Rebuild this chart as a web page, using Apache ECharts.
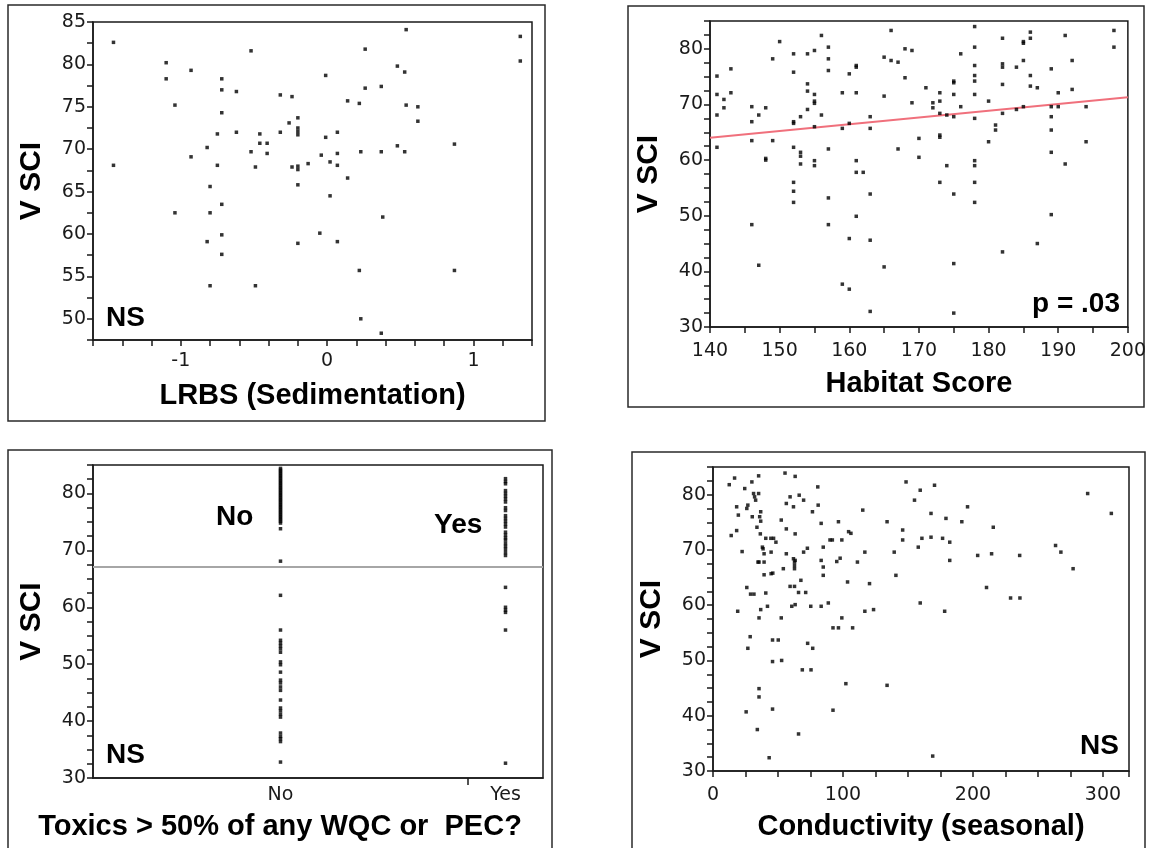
<!DOCTYPE html>
<html>
<head>
<meta charset="utf-8">
<style>
  html, body { margin: 0; padding: 0; background: #fff; }
  #chart { width: 1149px; height: 848px; }
</style>
<script src="https://cdn.jsdelivr.net/npm/echarts@6/dist/echarts.min.js"></script>
</head>
<body>
<div id="chart"></div>
<script>
// ---- V SCI against four stressors -------------------------------------

// LRBS (sedimentation) vs V SCI: [LRBS, VSCI]
const lrbsPoints = [
  [-1.46, 82.6], [-1.46, 68.1], [-1.10, 80.2], [-1.10, 78.3], [-1.04, 75.2], [-1.04, 62.5],
  [-0.93, 79.3], [-0.93, 69.1], [-0.82, 70.2], [-0.82, 59.1], [-0.80, 65.6], [-0.80, 62.5],
  [-0.80, 53.9], [-0.75, 71.8], [-0.75, 68.1], [-0.72, 78.3], [-0.72, 77.0], [-0.72, 74.3],
  [-0.72, 63.5], [-0.72, 59.9], [-0.72, 57.6], [-0.62, 76.8], [-0.62, 72.0], [-0.52, 81.6],
  [-0.52, 69.7], [-0.49, 67.9], [-0.49, 53.9], [-0.46, 71.8], [-0.46, 70.7], [-0.41, 70.7],
  [-0.41, 69.5], [-0.32, 76.4], [-0.32, 72.0], [-0.26, 73.1], [-0.24, 76.2], [-0.24, 67.9],
  [-0.20, 73.7], [-0.20, 72.5], [-0.20, 72.1], [-0.20, 71.7], [-0.20, 68.0], [-0.20, 67.6],
  [-0.20, 65.8], [-0.20, 58.9], [-0.13, 68.3], [-0.05, 60.1], [-0.04, 69.3], [-0.01, 78.7],
  [-0.01, 71.4], [0.02, 68.5], [0.02, 64.5], [0.07, 72.0], [0.07, 69.5], [0.07, 68.1],
  [0.07, 59.1], [0.14, 75.7], [0.14, 66.6], [0.22, 75.4], [0.22, 55.7], [0.23, 69.7],
  [0.23, 50.0], [0.26, 81.8], [0.26, 77.2], [0.37, 77.4], [0.37, 69.7], [0.37, 48.3],
  [0.38, 62.0], [0.48, 79.8], [0.48, 70.4], [0.53, 79.1], [0.53, 69.7], [0.54, 84.1],
  [0.54, 75.2], [0.62, 75.0], [0.62, 73.3], [0.87, 70.6], [0.87, 55.7], [1.32, 83.3],
  [1.32, 80.4]
];

// Habitat score vs V SCI: [score, VSCI]
const habitatPoints = [
  [141, 75.1], [141, 71.8], [141, 68.1], [141, 62.3], [142, 70.9], [142, 69.4], [143, 76.4], [143, 72.1],
  [146, 69.6], [146, 66.9], [146, 63.5], [146, 48.4], [147, 68.1], [147, 41.1], [148, 69.4], [148, 60.3],
  [148, 60.0], [149, 78.2], [149, 63.5], [150, 81.3],
  [152, 79.1], [152, 75.8], [152, 66.9], [152, 66.6], [152, 62.3], [152, 56.0], [152, 54.4], [152, 52.4],
  [153, 67.8], [153, 61.4], [153, 60.7], [153, 59.3],
  [154, 79.1], [154, 73.7], [154, 72.4], [154, 69.1],
  [155, 79.7], [155, 71.8], [155, 70.6], [155, 70.2], [155, 66.0], [155, 59.9], [155, 59.0],
  [156, 82.4], [156, 68.1],
  [157, 80.3], [157, 78.2], [157, 76.1], [157, 62.0], [157, 53.2], [157, 48.4],
  [159, 72.1], [159, 65.7], [159, 37.7],
  [160, 75.5], [160, 66.6], [160, 45.9], [160, 36.8],
  [161, 77.0], [161, 76.7], [161, 72.1], [161, 59.9], [161, 57.8], [161, 49.9],
  [162, 57.8],
  [163, 67.8], [163, 65.7], [163, 53.9], [163, 45.6], [163, 32.8],
  [165, 78.5], [165, 71.5], [165, 40.8],
  [166, 83.3], [166, 77.9], [167, 77.6], [167, 62.0], [168, 80.0], [168, 74.8],
  [169, 79.7], [169, 70.3], [170, 63.9], [170, 60.5], [171, 73.0], [172, 70.3], [172, 69.4],
  [173, 72.1], [173, 70.6], [173, 68.4], [173, 64.5], [173, 64.1], [173, 56.0],
  [174, 68.1], [174, 59.0],
  [175, 74.2], [175, 73.9], [175, 71.8], [175, 67.8], [175, 53.9], [175, 41.4], [175, 32.5],
  [176, 79.1], [176, 69.6],
  [178, 84.0], [178, 80.3], [178, 77.0], [178, 75.2], [178, 74.2], [178, 71.8], [178, 67.5],
  [178, 59.9], [178, 59.0], [178, 56.0], [178, 52.4],
  [180, 70.6], [180, 63.3], [181, 66.3], [181, 65.4],
  [182, 81.9], [182, 77.3], [182, 76.7], [182, 73.6], [182, 68.4], [182, 43.5],
  [184, 76.7], [184, 69.1],
  [185, 81.3], [185, 81.0], [185, 77.9], [185, 69.6],
  [186, 83.0], [186, 81.9], [186, 75.2], [186, 73.3],
  [187, 73.0], [187, 45.0],
  [189, 76.4], [189, 69.6], [189, 67.8], [189, 65.4], [189, 61.4], [189, 50.2],
  [190, 72.1], [190, 69.6], [191, 82.4], [191, 59.3], [192, 77.9], [192, 72.7],
  [194, 69.6], [194, 63.3], [198, 83.3], [198, 80.3]
];

// Fitted line through the habitat scatter
const habitatFitX = [140, 200];
const habitatFitY = [64.0, 71.3];

// Toxics > 50% of any WQC or PEC? — V SCI per group
const toxicsGroups = ['No', 'Yes'];
const toxicsGroupShare = [5, 1];   // relative width of each group on the axis
const toxicsNo = [
  84.4, 84.1, 83.8, 83.5, 83.2, 82.9, 82.6, 82.3, 82.0, 81.7, 81.4, 81.1, 80.8, 80.5, 80.2,
  79.9, 79.6, 79.3, 79.0, 78.7, 78.4, 78.1, 77.8, 77.5, 77.2, 76.9, 76.6, 76.3, 76.0, 75.7,
  75.4, 75.1, 74.8, 73.8, 68.1, 62.1, 56.0, 54.2, 53.7, 53.2, 52.7, 52.1, 50.4, 49.9, 48.6,
  47.2, 46.7, 46.0, 45.4, 43.7, 42.3, 41.8, 41.2, 40.7, 37.9, 37.3, 36.9, 36.4, 32.8
];
const toxicsYes = [
  82.6, 82.1, 81.7, 80.5, 80.0, 79.5, 79.0, 78.5, 77.5, 77.0, 76.1, 75.6, 75.1, 74.6, 74.1,
  73.2, 72.7, 72.2, 71.8, 71.2, 70.7, 70.2, 69.6, 69.1, 63.5, 60.0, 59.5, 59.1, 56.0, 32.6
];
const toxicsMean = 67.1;

// Seasonal conductivity vs V SCI: [conductivity, VSCI]
const conductivityPoints = [
  [12.5, 81.8], [16.6, 83.0], [14.0, 72.6], [18.2, 77.8], [18.2, 73.5], [19.5, 76.3], [19.0, 58.9],
  [22.4, 69.7], [24.4, 81.1], [26.0, 77.5], [26.8, 78.1], [26.0, 63.2], [26.8, 52.2], [25.5, 40.7],
  [28.6, 54.3], [28.9, 62.0], [31.5, 62.0], [29.9, 82.3], [30.2, 76.0], [31.2, 80.2], [32.0, 79.6],
  [32.8, 79.0], [33.8, 74.1], [34.1, 37.5], [35.1, 83.4], [35.1, 80.2], [34.6, 67.8], [35.4, 67.8],
  [35.4, 57.7], [35.4, 44.9], [35.4, 43.4], [35.9, 76.0], [36.7, 76.9], [36.7, 75.2], [36.4, 72.9],
  [36.7, 59.2], [38.0, 70.5], [38.5, 70.2], [39.3, 69.3], [39.3, 67.8], [39.3, 65.5], [40.6, 72.1],
  [40.6, 62.2], [41.9, 59.8], [43.2, 32.4], [44.5, 72.1], [46.6, 72.1], [44.7, 69.6], [44.7, 65.7],
  [46.0, 65.8], [45.8, 53.7], [50.2, 53.7], [45.8, 49.8], [45.8, 41.2], [48.4, 71.4], [52.5, 75.4],
  [52.5, 57.7], [52.8, 50.0], [54.1, 66.6], [55.4, 83.9], [56.4, 78.4], [56.4, 73.8], [56.4, 69.3],
  [59.3, 79.6], [59.3, 63.4], [60.6, 59.8], [61.9, 77.8], [61.9, 68.4], [62.7, 67.8], [62.7, 67.2],
  [62.7, 66.6], [63.2, 68.1], [62.7, 63.4], [63.2, 83.3], [63.2, 72.9], [63.2, 60.1], [66.3, 79.9],
  [65.8, 62.3], [65.8, 36.7], [67.6, 64.5], [68.7, 48.3], [69.7, 79.0], [69.7, 69.6], [71.3, 62.3],
  [72.6, 70.3], [72.8, 53.1], [75.2, 59.8], [75.4, 48.3], [76.5, 76.9], [76.7, 52.2], [80.6, 81.4],
  [80.9, 78.1], [83.2, 74.8], [83.2, 68.1], [83.2, 59.8], [84.8, 70.5], [84.8, 66.9], [84.8, 65.4],
  [88.7, 60.4], [90.0, 71.8], [91.8, 71.8], [92.3, 55.9], [96.5, 55.9], [92.3, 41.0], [95.2, 67.9],
  [96.5, 75.1], [97.8, 68.5], [99.1, 71.8], [99.1, 57.7], [102.2, 45.8], [103.5, 64.2], [104.3, 73.3],
  [106.1, 73.0], [107.4, 55.9], [111.1, 67.8], [115.2, 77.2], [116.8, 69.6], [116.8, 58.9],
  [120.4, 63.9], [123.5, 59.2], [133.9, 75.1], [133.9, 45.5], [139.4, 69.6], [140.7, 65.4],
  [145.9, 73.6], [145.9, 71.8], [148.5, 82.3], [155.0, 79.0], [157.9, 70.5], [159.4, 80.8],
  [159.4, 60.4], [160.7, 72.1], [167.7, 76.6], [167.7, 72.3], [169.0, 32.7], [170.4, 81.7],
  [176.6, 72.1], [178.2, 58.9], [179.2, 75.7], [182.1, 71.4], [182.1, 68.1], [191.4, 75.1],
  [195.8, 77.8], [203.6, 69.0], [210.4, 63.2], [214.3, 69.3], [215.6, 74.1], [228.9, 61.3],
  [236.1, 61.3], [235.9, 69.0], [263.5, 70.8], [267.6, 69.6], [277.0, 66.6], [288.2, 80.2],
  [306.4, 76.6]
];

// ---- helpers -------------------------------------------------------------
const FONT = '"Liberation Sans", Arial, Helvetica, sans-serif';
const TICK_FAMILY = '"DejaVu Sans", "Liberation Sans", sans-serif';
const INK = '#1a1a1a';
const TICK_FONT = 19;
const TITLE_SIZE = 29;
const NOTE_SIZE = 28;

function isMultiple(v, step) {
  const r = v / step;
  return Math.abs(r - Math.round(r)) < 1e-6;
}

function valueAxis(gridIndex, o) {
  return {
    gridIndex,
    type: 'value',
    min: o.min,
    max: o.max,
    interval: o.interval,
    name: o.name,
    nameLocation: 'middle',
    nameGap: o.nameGap,
    nameRotate: o.nameRotate,
    nameTextStyle: { fontFamily: FONT, fontWeight: 'bold', fontSize: o.nameSize || TITLE_SIZE, color: '#000' },
    axisLine: { show: true, onZero: false, lineStyle: { color: INK, width: 1.5 } },
    axisTick: { show: true, inside: false, length: 6, lineStyle: { color: INK, width: 1.5 } },
    axisLabel: {
      show: true,
      margin: o.labelMargin || 8,
      fontFamily: TICK_FAMILY,
      fontSize: TICK_FONT,
      color: INK,
      showMinLabel: true,
      showMaxLabel: true,
      formatter: v => (isMultiple(v, o.labelStep) ? String(Math.round(v)) : '')
    },
    splitLine: { show: false }
  };
}

// x centres of the toxics groups, from their relative widths
const toxicsTotal = toxicsGroupShare.reduce((a, b) => a + b, 0);
const toxicsCentres = [];
const toxicsBounds = [];
{
  let acc = 0;
  toxicsGroupShare.forEach((w, i) => {
    toxicsCentres.push(acc + w / 2);
    acc += w;
    if (i < toxicsGroupShare.length - 1) toxicsBounds.push(acc);
  });
}
const toxicsData = [
  ...toxicsNo.map(v => [toxicsCentres[0], v]),
  ...toxicsYes.map(v => [toxicsCentres[1], v])
];

const gridStyle = { show: true, borderColor: INK, borderWidth: 1.5, backgroundColor: 'transparent' };

const dot = { symbol: 'rect', symbolSize: 3.5, itemStyle: { color: '#000' } };

const vsciAxis = (g, min, step) =>
  valueAxis(g, { min, max: 85, interval: 2.5, labelStep: step, name: 'V SCI', nameGap: 46, nameRotate: 90, nameSize: 30, labelMargin: 7 });

const note = (text, x, y, align) => ({
  type: 'text', x, y, silent: true,
  style: { text, fontFamily: FONT, fontWeight: 'bold', fontSize: NOTE_SIZE, fill: '#000', align, verticalAlign: 'middle' }
});

const frame = (x, y, width, height) => ({
  type: 'rect', silent: true,
  shape: { x, y, width, height },
  style: { fill: 'none', stroke: '#2a2a2a', lineWidth: 1.5 }
});

const option = {
  animation: false,
  backgroundColor: '#fff',
  grid: [
    { left: 93,  top: 22,  width: 439, height: 318, ...gridStyle },
    { left: 710, top: 21,  width: 418, height: 306, ...gridStyle },
    { left: 93,  top: 465, width: 450, height: 313, ...gridStyle },
    { left: 713, top: 467, width: 416, height: 304, ...gridStyle }
  ],
  xAxis: [
    valueAxis(0, { min: -1.6, max: 1.4, interval: 0.2, labelStep: 1, name: 'LRBS (Sedimentation)', nameGap: 41, labelMargin: 12 }),
    valueAxis(1, { min: 140, max: 200, interval: 5, labelStep: 10, name: 'Habitat Score', nameGap: 42, labelMargin: 15 }),
    {
      gridIndex: 2,
      type: 'value',
      min: 0,
      max: toxicsTotal,
      axisLine: { show: true, onZero: false, lineStyle: { color: INK, width: 1.5 } },
      axisTick: { show: true, length: 7, customValues: toxicsBounds, lineStyle: { color: INK, width: 1.5 } },
      axisLabel: {
        margin: 8,
        fontFamily: TICK_FAMILY,
        fontSize: TICK_FONT,
        color: INK,
        customValues: toxicsCentres,
        formatter: v => {
          const i = toxicsCentres.findIndex(c => Math.abs(c - v) < 1e-6);
          return i >= 0 ? toxicsGroups[i] : '';
        }
      },
      splitLine: { show: false }
    },
    valueAxis(3, { min: 0, max: 320, interval: 25, labelStep: 100, name: 'Conductivity (seasonal)', nameGap: 41, labelMargin: 15 })
  ],
  yAxis: [
    vsciAxis(0, 47.5, 5),
    vsciAxis(1, 30, 10),
    vsciAxis(2, 30, 10),
    vsciAxis(3, 30, 10)
  ],
  series: [
    { type: 'scatter', xAxisIndex: 0, yAxisIndex: 0, data: lrbsPoints, ...dot, silent: true },
    {
      type: 'line', xAxisIndex: 1, yAxisIndex: 1,
      data: habitatFitX.map((x, i) => [x, habitatFitY[i]]),
      showSymbol: false, symbol: 'none', silent: true,
      lineStyle: { color: '#f0707c', width: 2 }, z: 1
    },
    { type: 'scatter', xAxisIndex: 1, yAxisIndex: 1, data: habitatPoints, ...dot, silent: true, z: 3 },
    {
      type: 'scatter', xAxisIndex: 2, yAxisIndex: 2, data: toxicsData, ...dot, silent: true, z: 3,
      markLine: {
        silent: true,
        symbol: 'none',
        label: { show: false },
        lineStyle: { color: '#a6a6a6', width: 2, type: 'solid' },
        data: [{ yAxis: toxicsMean }]
      }
    },
    { type: 'scatter', xAxisIndex: 3, yAxisIndex: 3, data: conductivityPoints, ...dot, silent: true }
  ],
  graphic: [
    // panel frames
    frame(8, 5, 537, 416),
    frame(628, 6, 516, 401),
    frame(8, 450, 544, 420),
    frame(632, 452, 513, 420),
    // toxics axis title, centred on its panel
    {
      type: 'text', x: 280, y: 827, silent: true,
      style: { text: 'Toxics > 50% of any WQC or  PEC?', fontFamily: FONT, fontWeight: 'bold', fontSize: TITLE_SIZE, fill: '#000', align: 'center', verticalAlign: 'middle' }
    },
    // significance notes and group tags
    note('NS', 106, 318, 'left'),
    note('p = .03', 1120, 304, 'right'),
    note('No', 216, 517, 'left'),
    note('Yes', 434, 525, 'left'),
    note('NS', 106, 755, 'left'),
    note('NS', 1119, 746, 'right')
  ]
};

const chart = echarts.init(document.getElementById('chart'), null, { renderer: 'canvas', width: 1149, height: 848 });
chart.setOption(option);
</script>
</body>
</html>
